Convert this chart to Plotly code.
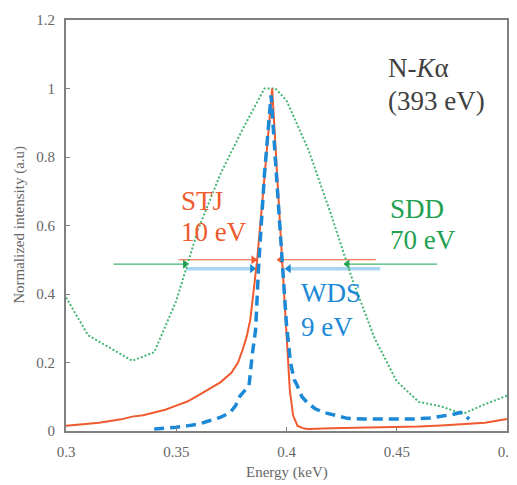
import plotly.graph_objects as go

# ---- data ----
stj_x = [0.300, 0.305, 0.310, 0.315, 0.320, 0.325, 0.330, 0.335, 0.340, 0.345,
         0.350, 0.355, 0.360, 0.365, 0.370, 0.375, 0.378, 0.380, 0.382, 0.3836,
         0.3867, 0.390, 0.392, 0.3935, 0.396, 0.398, 0.400, 0.4015, 0.403, 0.405,
         0.408, 0.410, 0.420, 0.430, 0.440, 0.450, 0.460, 0.470, 0.480, 0.490, 0.500]
stj_y = [0.015, 0.017, 0.021, 0.024, 0.029, 0.034, 0.042, 0.046, 0.054, 0.062,
         0.074, 0.086, 0.104, 0.124, 0.142, 0.170, 0.200, 0.235, 0.277, 0.326,
         0.500, 0.740, 0.890, 1.000, 0.720, 0.500, 0.250, 0.120, 0.045, 0.015,
         0.007, 0.006, 0.008, 0.009, 0.010, 0.011, 0.013, 0.016, 0.019, 0.024, 0.035]

wds_x = [0.340, 0.345, 0.350, 0.355, 0.360, 0.365, 0.370, 0.3745, 0.377, 0.379,
         0.383, 0.3844, 0.386, 0.3873, 0.390, 0.393, 0.396, 0.3985, 0.400, 0.4018,
         0.4035, 0.4049, 0.407, 0.4094, 0.413, 0.417, 0.422, 0.4276, 0.435, 0.443,
         0.450, 0.458, 0.465, 0.470, 0.475, 0.479, 0.4829]
wds_y = [0.006, 0.008, 0.011, 0.015, 0.020, 0.030, 0.040, 0.054, 0.075, 0.103,
         0.132, 0.219, 0.297, 0.474, 0.750, 0.980, 0.700, 0.460, 0.310, 0.200,
         0.150, 0.132, 0.100, 0.083, 0.065, 0.054, 0.045, 0.037, 0.035, 0.035,
         0.036, 0.035, 0.038, 0.042, 0.048, 0.054, 0.035]

sdd_x = [0.30, 0.31, 0.33, 0.34, 0.35, 0.36, 0.37, 0.38, 0.39, 0.395,
         0.40, 0.41, 0.42, 0.43, 0.44, 0.45, 0.46, 0.47, 0.48, 0.49, 0.50]
sdd_y = [0.39, 0.28, 0.205, 0.23, 0.38, 0.59, 0.75, 0.88, 1.00, 1.00,
         0.965, 0.82, 0.636, 0.44, 0.27, 0.145, 0.085, 0.072, 0.05, 0.078, 0.103]

# FWHM marker lines: [left start, left tip, right tip, right end], level
stj_fw_x = [0.351, 0.385, 0.3973, 0.4405]
stj_fw_y = 0.50
wds_fw_x = [0.3545, 0.3844, 0.4010, 0.4425]
wds_fw_y = 0.474
sdd_fw_x = [0.3215, 0.354, 0.4276, 0.4683]
sdd_fw_y = 0.4875

x_ticks = [0.3, 0.35, 0.4, 0.45, 0.5]
x_tick_labels = ["0.3", "0.35", "0.4", "0.45", "0.5"]
y_ticks = [0, 0.2, 0.4, 0.6, 0.8, 1.0, 1.2]
y_tick_labels = ["0", "0.2", "0.4", "0.6", "0.8", "1", "1.2"]

RED = "#EF5A2E"
BLUE = "#1C89D7"
LBLUE = "#A8D6F2"
GREEN = "#45B574"
SERIF = "Liberation Serif, Times New Roman, serif"
GRAY_TXT = "#666666"

fig = go.Figure()

def fw(xs, y, color, width, mcolor):
    fig.add_trace(go.Scatter(x=[xs[0], xs[1]], y=[y, y], mode="lines",
                             line=dict(color=color, width=width), showlegend=False, hoverinfo="skip"))
    fig.add_trace(go.Scatter(x=[xs[2], xs[3]], y=[y, y], mode="lines",
                             line=dict(color=color, width=width), showlegend=False, hoverinfo="skip"))
    fig.add_trace(go.Scatter(x=[xs[1], xs[2]], y=[y, y], mode="markers",
                             marker=dict(symbol=["triangle-right", "triangle-left"], size=8, color=mcolor),
                             showlegend=False, hoverinfo="skip"))

fw(wds_fw_x, wds_fw_y, LBLUE, 3.5, BLUE)
fw(sdd_fw_x, sdd_fw_y, GREEN, 1.2, "#1E9E4E")
fw(stj_fw_x, stj_fw_y, RED, 1.2, RED)

fig.add_trace(go.Scatter(x=sdd_x, y=sdd_y, mode="lines", name="SDD",
                         line=dict(color=GREEN, width=2, dash="2px,2px")))
fig.add_trace(go.Scatter(x=stj_x, y=stj_y, mode="lines", name="STJ",
                         line=dict(color=RED, width=2)))
fig.add_trace(go.Scatter(x=wds_x, y=wds_y, mode="lines", name="WDS",
                         line=dict(color=BLUE, width=3.5, dash="10px,6px")))

def label(text, x, y, color, size=27):
    fig.add_annotation(x=x, y=y, xref="x", yref="y", text=text, showarrow=False,
                       xanchor="left", yanchor="middle",
                       font=dict(family=SERIF, size=size, color=color))

label("N-<i>K</i>α", 0.4452, 1.060, "#404040")
label("(393 eV)", 0.4452, 0.963, "#404040")
label("STJ", 0.3512, 0.672, RED)
label("10 eV", 0.3512, 0.582, RED)
label("SDD", 0.4460, 0.649, "#22A050")
label("70 eV", 0.4460, 0.558, "#22A050")
label("WDS", 0.4058, 0.404, BLUE)
label("9 eV", 0.4058, 0.305, BLUE)

# axis titles placed as paper annotations
fig.add_annotation(x=0.501, y=-0.101, xref="paper", yref="paper", text="Energy (keV)",
                   showarrow=False, xanchor="center", yanchor="middle",
                   font=dict(family=SERIF, size=15, color=GRAY_TXT))
fig.add_annotation(x=-0.104, y=0.502, xref="paper", yref="paper", text="Normalized intensity (a.u)",
                   showarrow=False, xanchor="center", yanchor="middle", textangle=-90,
                   font=dict(family=SERIF, size=15, color=GRAY_TXT))

axis_common = dict(showline=True, linecolor="#808080", linewidth=2, mirror=True,
                   ticks="inside", ticklen=4, tickcolor="#808080", tickwidth=1,
                   showgrid=False, zeroline=False, automargin=False,
                   tickfont=dict(family=SERIF, size=15, color=GRAY_TXT))

# page body has an 8px default margin, so the figure is sized to fit in the window
fig.update_layout(
    width=509, height=477,
    margin=dict(l=58, r=10, t=12, b=54),
    paper_bgcolor="white", plot_bgcolor="white",
    showlegend=False,
    xaxis=dict(range=[0.3, 0.5], tickvals=x_ticks, ticktext=x_tick_labels,
               ticklabelstandoff=6, **axis_common),
    yaxis=dict(range=[0, 1.2], tickvals=y_ticks, ticktext=y_tick_labels,
               ticklabelstandoff=6, **axis_common),
)

fig.write_html("out.html")
